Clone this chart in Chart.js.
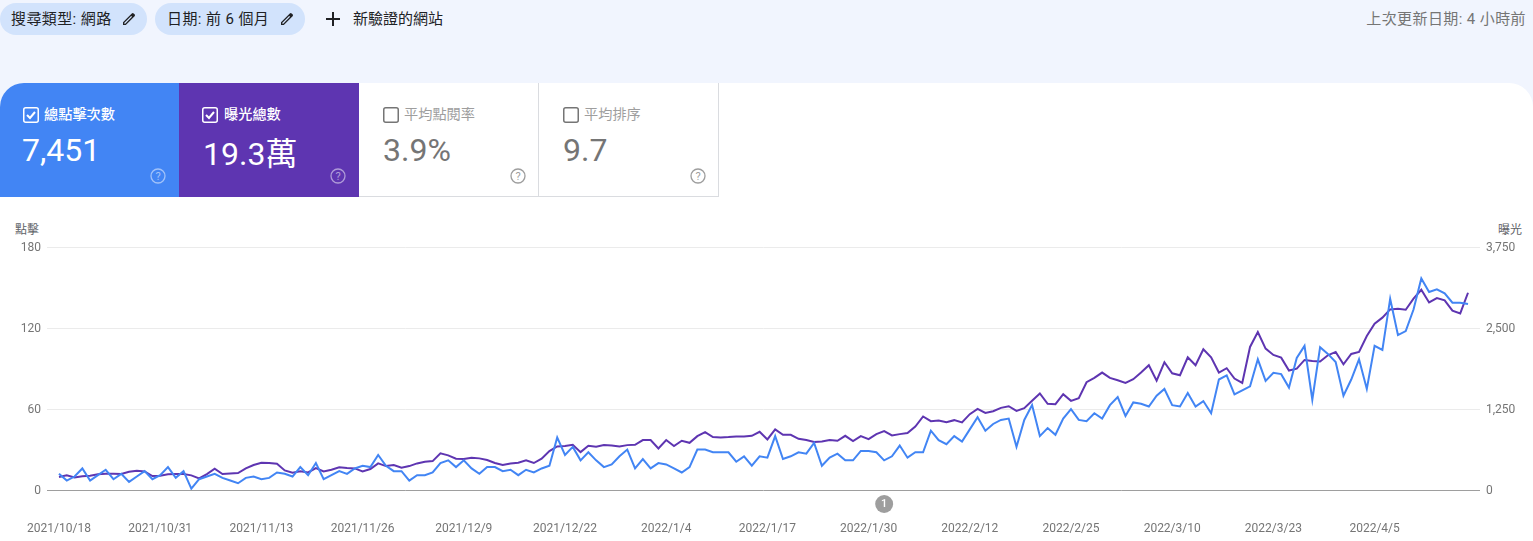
<!DOCTYPE html>
<html>
<head>
<meta charset="utf-8">
<script src="https://cdn.jsdelivr.net/npm/chart.js@4"></script>
<style>
  html, body { margin: 0; padding: 0; width: 1533px; height: 541px; overflow: hidden; background: #f1f5fe; }
  body, div { font-family: Roboto, "Noto Sans CJK TC", sans-serif; box-sizing: border-box; }
  .abs { position: absolute; white-space: nowrap; }
  .panel { left: 0; top: 83px; width: 1533px; height: 458px; background: #fff; border-radius: 24px 24px 0 0; }
  .pill { top: 3px; height: 32px; background: #d2e3fc; border-radius: 16px; }
  .top { top: 10px; font-size: 15px; line-height: 18px; color: #202124; letter-spacing: .4px; }
  .card { top: 83px; height: 114px; }
  .name { top: 104px; font-size: 14.2px; line-height: 20px; }
  .num { top: 130px; font-size: 32px; line-height: 40px; }
  #wrap { position: absolute; left: 0; top: 220px; width: 1533px; height: 321px; }
</style>
</head>
<body>
<div class="abs panel"></div>

<div class="abs pill" style="left:0;width:147px"></div>
<div class="abs pill" style="left:155px;width:150px"></div>
<div class="abs top" style="left:11px">搜尋類型: 網路</div>
<div class="abs top" style="left:167px">日期: 前 6 個月</div>
<div class="abs top" style="left:353px;letter-spacing:0">新驗證的網站</div>
<div class="abs top" style="right:7px;color:#757575">上次更新日期: 4 小時前</div>
<svg class="abs" style="left:121px;top:11px" width="16" height="16" viewBox="0 0 24 24"><path fill="#202124" d="M3 21v-4.2L16.2 3.6a2 2 0 0 1 2.8 0l1.4 1.4a2 2 0 0 1 0 2.8L7.2 21H3zm2-2h1.4L16.6 8.8l-1.4-1.4L5 17.6V19z"/></svg>
<svg class="abs" style="left:279px;top:11px" width="16" height="16" viewBox="0 0 24 24"><path fill="#202124" d="M3 21v-4.2L16.2 3.6a2 2 0 0 1 2.8 0l1.4 1.4a2 2 0 0 1 0 2.8L7.2 21H3zm2-2h1.4L16.6 8.8l-1.4-1.4L5 17.6V19z"/></svg>
<svg class="abs" style="left:326px;top:12px" width="14" height="14" viewBox="0 0 14 14"><path fill="#202124" d="M6 0h2v6h6v2H8v6H6V8H0V6h6z"/></svg>

<div class="abs card" style="left:0;width:179px;background:#4285f4;border-top-left-radius:24px"></div>
<div class="abs card" style="left:179px;width:180px;background:#5e35b1"></div>
<div class="abs card" style="left:359px;width:180px;border-right:1px solid #dadce0;border-bottom:1px solid #dadce0"></div>
<div class="abs card" style="left:539px;width:180px;border-right:1px solid #dadce0;border-bottom:1px solid #dadce0"></div>

<svg class="abs" style="left:23px;top:107px" width="16" height="16"><rect x=".75" y=".75" width="14.5" height="14.5" rx="2" fill="none" stroke="#fff" stroke-width="1.5"/><path d="M4 8l3 3 5-6" fill="none" stroke="#fff" stroke-width="2"/></svg>
<svg class="abs" style="left:202px;top:107px" width="16" height="16"><rect x=".75" y=".75" width="14.5" height="14.5" rx="2" fill="none" stroke="#fff" stroke-width="1.5"/><path d="M4 8l3 3 5-6" fill="none" stroke="#fff" stroke-width="2"/></svg>
<svg class="abs" style="left:383px;top:107px" width="16" height="16"><rect x=".75" y=".75" width="14.5" height="14.5" rx="2" fill="none" stroke="#757575" stroke-width="1.5"/></svg>
<svg class="abs" style="left:563px;top:107px" width="16" height="16"><rect x=".75" y=".75" width="14.5" height="14.5" rx="2" fill="none" stroke="#757575" stroke-width="1.5"/></svg>

<div class="abs name" style="left:44px;color:#fff;font-weight:500">總點擊次數</div>
<div class="abs name" style="left:224px;color:#fff;font-weight:500">曝光總數</div>
<div class="abs name" style="left:404px;color:#9e9e9e">平均點閱率</div>
<div class="abs name" style="left:584px;color:#9e9e9e">平均排序</div>
<div class="abs num" style="left:22px;color:#fff">7,451</div>
<div class="abs num" style="left:203px;color:#fff;top:134px">19.3萬</div>
<div class="abs num" style="left:383px;color:#757575">3.9%</div>
<div class="abs num" style="left:563px;color:#757575">9.7</div>

<svg class="abs" style="left:150px;top:168px" width="16" height="16" opacity=".5"><circle cx="8" cy="8" r="7" fill="none" stroke="#fff" stroke-width="1.3"/><text x="8" y="12" font-size="11" text-anchor="middle" fill="#fff" font-family="Roboto">?</text></svg>
<svg class="abs" style="left:330px;top:168px" width="16" height="16" opacity=".5"><circle cx="8" cy="8" r="7" fill="none" stroke="#fff" stroke-width="1.3"/><text x="8" y="12" font-size="11" text-anchor="middle" fill="#fff" font-family="Roboto">?</text></svg>
<svg class="abs" style="left:510px;top:168px" width="16" height="16" opacity=".7"><circle cx="8" cy="8" r="7" fill="none" stroke="#757575" stroke-width="1.3"/><text x="8" y="12" font-size="11" text-anchor="middle" fill="#757575" font-family="Roboto">?</text></svg>
<svg class="abs" style="left:690px;top:168px" width="16" height="16" opacity=".7"><circle cx="8" cy="8" r="7" fill="none" stroke="#757575" stroke-width="1.3"/><text x="8" y="12" font-size="11" text-anchor="middle" fill="#757575" font-family="Roboto">?</text></svg>

<div class="abs" style="left:15px;top:223px;font-size:12px;line-height:14px;color:#5f6368">點擊</div>
<div class="abs" style="right:11px;top:223px;font-size:12px;line-height:14px;color:#5f6368">曝光</div>

<div id="wrap"><canvas id="myChart"></canvas></div>

<script>
// every 13th day, starting at day 0 (2021/10/18)
var dateTicks = ['2021/10/18', '2021/10/31', '2021/11/13', '2021/11/26', '2021/12/9', '2021/12/22', '2022/1/4',
  '2022/1/17', '2022/1/30', '2022/2/12', '2022/2/25', '2022/3/10', '2022/3/23', '2022/4/5'];
var clickTicks = [0, 60, 120, 180];
var impressionTicks = [0, 1250, 2500, 3750];

// one value per day
var clicks = [
  12, 7, 10, 16, 7, 11, 15, 8, 12, 6,
  10, 14, 8, 11, 17, 9, 14, 1, 8, 10,
  12, 9, 7, 5, 9, 10, 8, 9, 13, 12,
  10, 17, 11, 20, 8, 11, 14, 12, 16, 18,
  17, 26, 18, 14, 14, 7, 11, 11, 13, 20,
  22, 17, 22, 16, 12, 17, 17, 14, 15, 11,
  15, 13, 16, 18, 39, 26, 32, 22, 28, 22,
  17, 19, 25, 30, 16, 23, 16, 20, 19, 16,
  13, 17, 30, 30, 28, 28, 28, 21, 25, 18,
  25, 24, 40, 23, 25, 28, 27, 35, 18, 24,
  27, 22, 22, 29, 29, 28, 22, 25, 33, 24,
  28, 28, 44, 37, 34, 40, 36, 45, 54, 44,
  49, 52, 53, 32, 52, 63, 40, 46, 41, 53,
  60, 52, 51, 57, 53, 63, 69, 55, 65, 64,
  62, 70, 75, 63, 62, 72, 62, 66, 57, 82,
  85, 71, 74, 77, 97, 81, 87, 86, 76, 98,
  107, 67, 106, 101, 95, 70, 82, 97, 75, 107,
  104, 142, 115, 118, 134, 157, 147, 149, 146, 139,
  139, 138
];
var impressions = [
  200, 226, 195, 211, 221, 242, 252, 252, 247, 283,
  298, 288, 216, 221, 242, 247, 247, 226, 180, 247,
  329, 247, 257, 262, 334, 386, 422, 417, 406, 303,
  267, 288, 272, 339, 288, 314, 350, 339, 334, 288,
  324, 411, 370, 386, 345, 370, 411, 437, 447, 566,
  535, 484, 478, 499, 489, 463, 417, 386, 411, 422,
  458, 417, 484, 602, 674, 679, 700, 586, 684, 669,
  694, 689, 674, 694, 700, 772, 772, 643, 772, 679,
  761, 730, 833, 895, 818, 813, 818, 828, 828, 838,
  900, 782, 936, 854, 854, 792, 772, 741, 751, 772,
  761, 838, 756, 833, 787, 864, 910, 844, 864, 880,
  982, 1137, 1065, 1075, 1049, 1080, 1044, 1173, 1255, 1193,
  1219, 1270, 1296, 1224, 1265, 1379, 1492, 1332, 1327, 1481,
  1379, 1420, 1667, 1733, 1816, 1733, 1697, 1656, 1713, 1816,
  1929, 1692, 1975, 1805, 1775, 2052, 1929, 2176, 2052, 1816,
  1883, 1723, 1656, 2212, 2443, 2186, 2088, 2047, 1847, 1877,
  2011, 1996, 1986, 2083, 2135, 1944, 2104, 2135, 2382, 2572,
  2665, 2793, 2803, 2788, 2958, 3097, 2901, 2968, 2932, 2773,
  2731, 3050
];
var noteDay = 106;

function toPoints(values) {
  return values.map(function (v, i) { return { x: i, y: v }; });
}

// the grey "1" marker under the axis
var notePlugin = {
  id: 'note',
  afterDraw: function (chart) {
    var c = chart.ctx;
    var x = chart.scales.x.getPixelForValue(noteDay);
    var y = chart.scales.y.bottom + 14;
    c.save();
    c.fillStyle = '#9e9e9e';
    c.beginPath();
    c.arc(x, y, 9, 0, Math.PI * 2);
    c.fill();
    c.fillStyle = '#fff';
    c.font = '500 11px Roboto';
    c.textAlign = 'center';
    c.textBaseline = 'middle';
    c.fillText('1', x, y + 0.5);
    c.restore();
  }
};

var ctx = document.getElementById('myChart').getContext('2d');

var myChart = new Chart(ctx, {
  type: 'line',
  data: {
    datasets: [{
      data: toPoints(clicks),
      yAxisID: 'y',
      borderColor: '#4285f4',
      borderWidth: 2,
      pointRadius: 0,
      tension: 0
    }, {
      data: toPoints(impressions),
      yAxisID: 'y1',
      borderColor: '#5e35b1',
      borderWidth: 2,
      pointRadius: 0,
      tension: 0
    }]
  },
  options: {
    responsive: true,
    maintainAspectRatio: false,
    animation: false,
    layout: { padding: { top: 27.5, left: 0, right: 0, bottom: 0 } },
    plugins: { legend: { display: false }, tooltip: { enabled: false } },
    scales: {
      x: {
        type: 'linear',
        min: -1.54,
        max: clicks.length - 1 + 1.54,
        grid: { display: false },
        border: { display: false },
        afterBuildTicks: function (axis) {
          axis.ticks = dateTicks.map(function (d, i) { return { value: i * 13 }; });
        },
        afterFit: function (axis) { axis.height = 51; },
        ticks: {
          autoSkip: false,
          maxRotation: 0,
          padding: 24,
          color: '#757575',
          font: { family: 'Roboto', size: 12 },
          callback: function (v) { return dateTicks[v / 13]; }
        }
      },
      y: {
        position: 'left',
        min: clickTicks[0],
        max: clickTicks[clickTicks.length - 1],
        border: { display: false },
        grid: {
          drawTicks: false,
          color: function (c) { return c.tick.value === 0 ? '#9e9e9e' : '#ebebeb'; }
        },
        afterBuildTicks: function (axis) {
          axis.ticks = clickTicks.map(function (v) { return { value: v }; });
        },
        afterFit: function (axis) { axis.width = 47; },
        ticks: { padding: 6, labelOffset: 0.5, color: '#757575', font: { family: 'Roboto', size: 12 } }
      },
      y1: {
        position: 'right',
        min: impressionTicks[0],
        max: impressionTicks[impressionTicks.length - 1],
        border: { display: false },
        grid: { display: false, drawTicks: false },
        afterBuildTicks: function (axis) {
          axis.ticks = impressionTicks.map(function (v) { return { value: v }; });
        },
        afterFit: function (axis) { axis.width = 53; },
        ticks: {
          padding: 6,
          labelOffset: 0.5,
          color: '#757575',
          font: { family: 'Roboto', size: 12 },
          callback: function (v) { return v.toLocaleString('en-US'); }
        }
      }
    }
  },
  plugins: [notePlugin]
});
</script>
</body>
</html>
